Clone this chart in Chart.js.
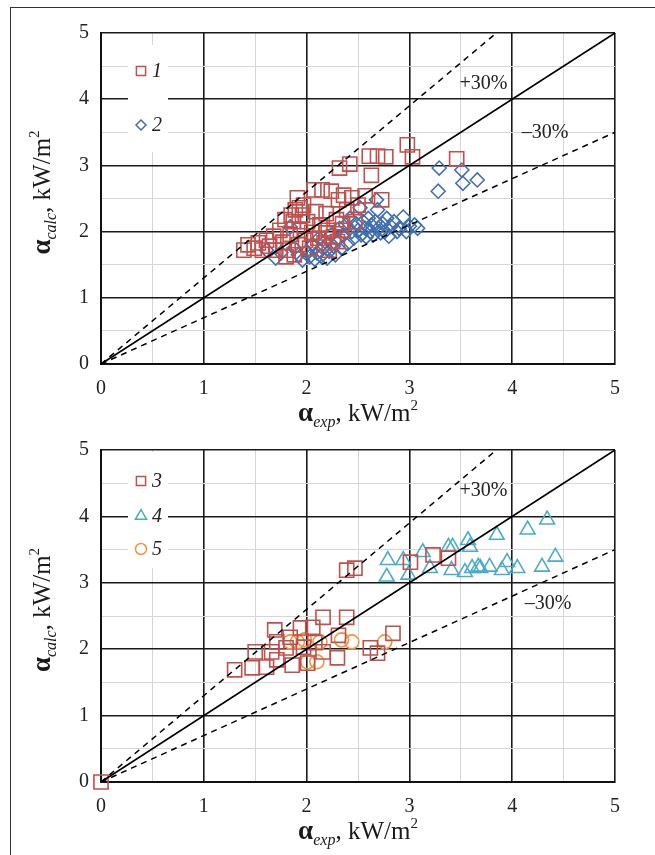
<!DOCTYPE html>
<html>
<head>
<meta charset="utf-8">
<script src="https://cdn.jsdelivr.net/npm/chart.js@4.4.1/dist/chart.umd.min.js"></script>
<style>
  html, body { margin: 0; padding: 0; background: #fff; }
  body { width: 655px; height: 855px; position: relative; overflow: hidden; }
  .frame { position: absolute; left: 10px; top: 7px; width: 700px; height: 900px;
           border-top: 1.5px solid #333; border-left: 1.5px solid #333; }
  canvas { position: absolute; left: 0; }
  #topChart { top: 0; }
  #bottomChart { top: 425px; }
</style>
</head>
<body>
<div class="frame"></div>
<canvas id="topChart" width="655" height="445"></canvas>
<canvas id="bottomChart" width="655" height="430"></canvas>
<script>
// axis ticks (labels shown on whole numbers, light grid on halves)
const tickValues = [0, 1, 2, 3, 4, 5];

// reference lines: exact, +30 %, -30 %
const lineExact = [[0, 0], [5, 5]];
const linePlus30 = [[0, 0], [5 / 1.3, 5]];
const lineMinus30 = [[0, 0], [5, 3.5]];

// top panel, series 1 (squares) and 2 (diamonds): [alpha_exp, alpha_calc]
const series1 = [
  [1.39, 1.72], [1.43, 1.80], [1.49, 1.75], [1.53, 1.83], [1.57, 1.72], [1.61, 1.87], [1.64, 1.78],
  [1.68, 1.93], [1.70, 1.72], [1.74, 2.02], [1.77, 1.84], [1.79, 2.18], [1.80, 1.62], [1.82, 1.72],
  [1.84, 1.96], [1.85, 2.25], [1.87, 2.15], [1.88, 1.65], [1.89, 2.33], [1.91, 2.51], [1.92, 1.80],
  [1.93, 2.36], [1.94, 2.02], [1.96, 2.25], [1.97, 2.40], [1.99, 1.87], [2.01, 2.15], [2.03, 1.75],
  [2.05, 1.99], [2.07, 2.63], [2.09, 2.30], [2.11, 1.90], [2.13, 2.10], [2.15, 2.63], [2.17, 1.83],
  [2.19, 2.27], [2.19, 1.98], [2.21, 2.02], [2.22, 1.72], [2.24, 2.61], [2.26, 1.92], [2.29, 2.18],
  [2.30, 1.85], [2.31, 2.48], [2.32, 2.96], [2.34, 2.02], [2.35, 2.12], [2.36, 2.55], [2.39, 2.33],
  [2.42, 3.02], [2.44, 2.51], [2.47, 2.15], [2.50, 2.40], [2.57, 2.54], [2.61, 3.14], [2.63, 2.85],
  [2.69, 3.14], [2.73, 2.48], [2.77, 3.13], [2.98, 3.31], [3.03, 3.13], [3.46, 3.10]
];
const series2 = [
  [1.61, 1.72], [1.70, 1.60], [1.75, 1.68], [1.84, 2.07], [1.88, 1.75], [1.92, 1.65], [1.96, 1.57],
  [2.00, 1.70], [2.03, 1.62], [2.06, 1.80], [2.08, 1.58], [2.10, 1.68], [2.12, 1.90], [2.14, 1.63],
  [2.16, 1.75], [2.18, 1.85], [2.20, 1.60], [2.22, 1.70], [2.24, 1.95], [2.26, 1.78], [2.28, 1.65],
  [2.30, 1.88], [2.32, 2.05], [2.34, 1.75], [2.36, 1.95], [2.38, 2.10], [2.40, 1.82], [2.42, 2.20],
  [2.44, 2.00], [2.46, 1.90], [2.48, 2.12], [2.50, 2.02], [2.52, 2.36], [2.53, 1.95], [2.55, 2.15],
  [2.57, 2.05], [2.58, 1.92], [2.60, 2.20], [2.62, 2.00], [2.63, 2.10], [2.65, 1.95], [2.67, 2.15],
  [2.68, 2.48], [2.69, 2.33], [2.70, 2.05], [2.72, 1.98], [2.74, 2.12], [2.76, 2.00], [2.78, 2.20],
  [2.80, 1.93], [2.82, 2.08], [2.85, 2.15], [2.88, 2.00], [2.90, 2.05], [2.94, 2.22], [2.97, 2.00],
  [3.00, 2.08], [3.05, 2.10], [3.08, 2.05], [3.28, 2.61], [3.29, 2.96], [3.51, 2.93], [3.52, 2.73],
  [3.66, 2.78]
];

// bottom panel, series 3 (squares), 4 (triangles), 5 (circles)
const series3 = [
  [0, 0], [1.30, 1.69], [1.47, 1.72], [1.50, 1.96], [1.61, 1.73], [1.66, 1.96], [1.69, 2.29],
  [1.71, 2.11], [1.71, 1.84], [1.80, 2.02], [1.84, 2.18], [1.86, 1.76], [1.94, 2.32], [1.97, 2.03],
  [2.01, 1.79], [2.06, 2.33], [2.08, 2.10], [2.16, 2.48], [2.16, 1.96], [2.30, 1.87], [2.31, 2.21],
  [2.39, 2.48], [2.39, 3.19], [2.47, 3.22], [2.62, 2.02], [2.69, 1.94], [2.84, 2.24], [3.01, 3.31],
  [3.23, 3.42], [3.38, 3.37]
];
const series4 = [
  [2.79, 3.34], [2.78, 3.09], [2.94, 3.34], [2.99, 3.12], [3.13, 3.46], [3.20, 3.22], [3.38, 3.54],
  [3.42, 3.54], [3.41, 3.19], [3.54, 3.16], [3.57, 3.64], [3.59, 3.54], [3.61, 3.22], [3.67, 3.24],
  [3.69, 3.22], [3.78, 3.24], [3.85, 3.72], [3.90, 3.19], [3.95, 3.31], [4.05, 3.22], [4.15, 3.80],
  [4.29, 3.24], [4.34, 3.95], [4.42, 3.39]
];
const series5 = [
  [1.84, 2.11], [1.91, 2.11], [1.98, 2.14], [2.01, 1.81], [2.10, 1.81], [2.13, 2.11], [2.34, 2.14],
  [2.44, 2.11], [2.76, 2.11]
];

const RED = '#c0504d';
const BLUE = '#3f6fb0';
const TEAL = '#4bacc6';
const ORANGE = '#f0943f';
const SERIF = '"Liberation Serif", "DejaVu Serif", serif';

const pts = arr => arr.map(([x, y]) => ({ x, y }));

function refLines() {
  const base = { showLine: true, pointRadius: 0, borderColor: '#000', borderWidth: 1.5, fill: false, clip: false };
  return [
    { ...base, data: pts(lineExact) },
    { ...base, data: pts(linePlus30), borderDash: [6, 5] },
    { ...base, data: pts(lineMinus30), borderDash: [6, 5] }
  ];
}

function markers(data, style, color, radius) {
  return {
    data: pts(data), showLine: false, pointStyle: style, pointRadius: radius,
    borderColor: color, backgroundColor: 'rgba(0,0,0,0)', borderWidth: 1.6, clip: false
  };
}

// text made of pieces with different fonts and baseline shifts
function drawRich(ctx, parts, cx, cy) {
  let w = 0;
  parts.forEach(p => { ctx.font = p.font; p.w = ctx.measureText(p.t).width; w += p.w; });
  let x = cx - w / 2;
  parts.forEach(p => { ctx.font = p.font; ctx.fillText(p.t, x, cy + (p.dy || 0)); x += p.w; });
}

const titleParts = sub => [
  { t: 'α', font: 'bold 27px ' + SERIF },
  { t: sub, font: 'italic 16px ' + SERIF, dy: 6 },
  { t: ', kW/m', font: '25px ' + SERIF },
  { t: '2', font: '15px ' + SERIF, dy: -11 }
];

const overlay = {
  id: 'overlay',
  beforeDatasetsDraw(chart, args, opts) {
    const { ctx, chartArea: a, scales: { x, y } } = chart;
    ctx.save();
    // white legend box sitting on the grid
    ctx.fillStyle = '#fff';
    ctx.fillRect(a.left + 27, a.top + opts.boxTop, 40, opts.boxHeight);
    opts.legend.forEach(item => {
      const my = a.top + item.dy;
      ctx.strokeStyle = item.color;
      ctx.fillStyle = 'rgba(0,0,0,0)';
      ctx.lineWidth = 1.5;
      Chart.helpers.drawPoint(ctx, { pointStyle: item.style, radius: item.r, rotation: 0, borderWidth: 1.5 }, a.left + 40, my);
      ctx.fillStyle = '#222';
      ctx.font = 'italic 20px ' + SERIF;
      ctx.textAlign = 'left';
      ctx.textBaseline = 'middle';
      ctx.fillText(item.label, a.left + 51, my + 1);
    });
    // +30 % / -30 % notes
    ctx.fillStyle = '#222';
    ctx.font = '20px ' + SERIF;
    ctx.textAlign = 'center';
    ctx.textBaseline = 'middle';
    opts.notes.forEach(n => ctx.fillText(n.text, x.getPixelForValue(n.x), y.getPixelForValue(n.y)));
    ctx.restore();
  },
  afterDraw(chart) {
    const { ctx, chartArea: a } = chart;
    ctx.save();
    ctx.fillStyle = '#1a1a1a';
    ctx.textAlign = 'left';
    ctx.textBaseline = 'alphabetic';
    drawRich(ctx, titleParts('exp'), (a.left + a.right) / 2, a.bottom + 57);
    ctx.translate(50, (a.top + a.bottom) / 2 - 6);
    ctx.rotate(-Math.PI / 2);
    drawRich(ctx, titleParts('calc'), 0, 0);
    ctx.restore();
  }
};

function axis(fit) {
  return {
    type: 'linear', min: 0, max: 5,
    ticks: {
      stepSize: 0.5, autoSkip: false, maxRotation: 0, color: '#222',
      font: { family: SERIF, size: 20 },
      callback: v => tickValues.includes(v) ? String(v) : ''
    },
    grid: {
      drawTicks: false,
      color: c => (c.tick && Number.isInteger(c.tick.value)) ? '#1a1a1a' : '#d6d6d6',
      lineWidth: c => (c.tick && Number.isInteger(c.tick.value)) ? 1.6 : 1
    },
    border: { color: '#111', width: 2 },
    afterFit: fit
  };
}

function makeChart(id, datasets, pad, xHeight, overlayOpts) {
  const xAxis = axis(s => { s.height = xHeight; });
  xAxis.ticks.padding = 13;
  const yAxis = axis(s => { s.width = 101; });
  yAxis.ticks.padding = 12;
  return new Chart(document.getElementById(id), {
    type: 'scatter',
    data: { datasets },
    options: {
      responsive: false,
      animation: false,
      events: [],
      layout: { padding: pad },
      plugins: { legend: { display: false }, tooltip: { enabled: false }, overlay: overlayOpts },
      scales: { x: xAxis, y: yAxis }
    },
    plugins: [overlay]
  });
}

// top canvas is 445 tall so the subscript of its axis title is not cut;
// the lower canvas is transparent and lies over its last rows
makeChart('topChart',
  [...refLines(), markers(series1, 'rect', RED, 10), markers(series2, 'rectRot', BLUE, 7)],
  { left: 0, right: 40, top: 33, bottom: 0 }, 81,
  {
    boxTop: 12, boxHeight: 107,
    legend: [
      { label: '1', style: 'rect', color: RED, r: 6.5, dy: 38 },
      { label: '2', style: 'rectRot', color: BLUE, r: 5, dy: 92 }
    ],
    notes: [{ text: '+30%', x: 3.72, y: 4.24 }, { text: '\u201330%', x: 4.32, y: 3.49 }]
  });

makeChart('bottomChart',
  [...refLines(), markers(series3, 'rect', RED, 10), markers(series4, 'triangle', TEAL, 8.5),
   markers(series5, 'circle', ORANGE, 7)],
  { left: 0, right: 40, top: 25, bottom: 0 }, 73,
  {
    boxTop: 2, boxHeight: 116,
    legend: [
      { label: '3', style: 'rect', color: RED, r: 6.5, dy: 31 },
      { label: '4', style: 'triangle', color: TEAL, r: 6.5, dy: 66 },
      { label: '5', style: 'circle', color: ORANGE, r: 5.5, dy: 99 }
    ],
    notes: [{ text: '+30%', x: 3.72, y: 4.38 }, { text: '\u201330%', x: 4.35, y: 2.68 }]
  });
</script>
</body>
</html>
